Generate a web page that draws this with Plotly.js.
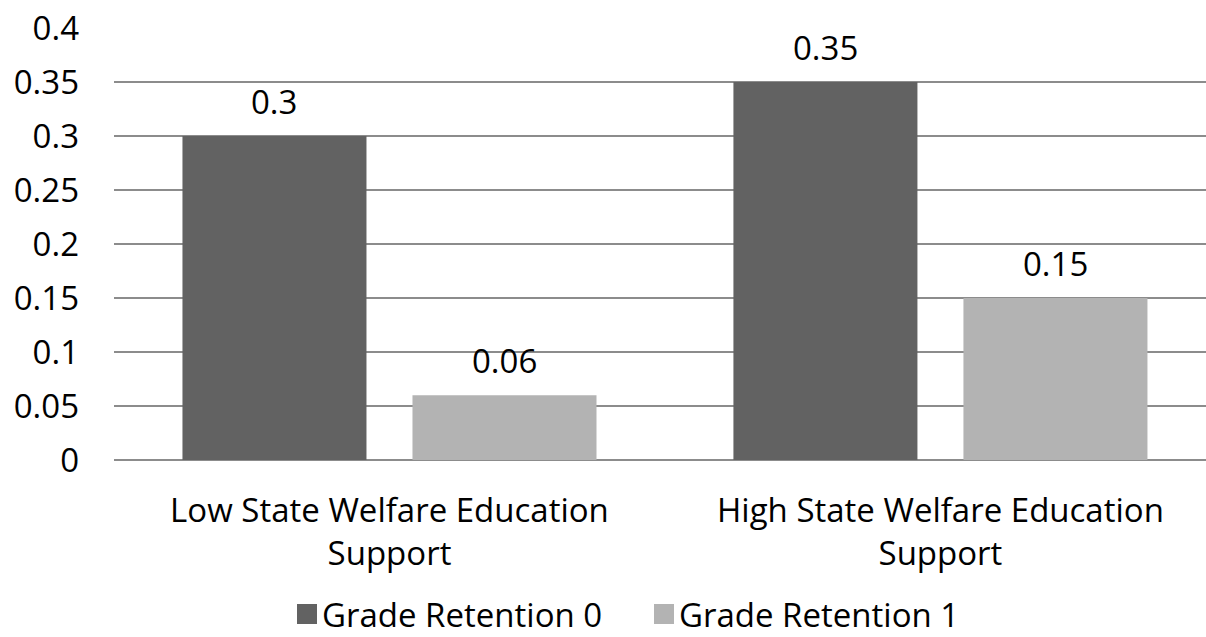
<!DOCTYPE html>
<html>
<head>
<meta charset="utf-8">
<script src="https://cdn.plot.ly/plotly-3.0.1.min.js"></script>
<style>html,body{margin:0;padding:0;background:#fff;}#chart{width:1206px;height:637px;}</style>
</head>
<body>
<div id="chart"></div>
<script>
const categories = ['Low State Welfare Education<br>Support', 'High State Welfare Education<br>Support'];
const seriesNames = ['Grade Retention 0', 'Grade Retention 1'];
const retention0 = [0.3, 0.35];
const retention1 = [0.06, 0.15];
const yTicks = [0, 0.05, 0.1, 0.15, 0.2, 0.25, 0.3, 0.35, 0.4];
const yTickLabels = ['0', '0.05', '0.1', '0.15', '0.2', '0.25', '0.3', '0.35', '0.4'];

const FONT = 'Open Sans, Noto Sans, sans-serif';
const FS = 33;
const colors = ['#626262', '#b3b3b3'];
const seriesVals = [retention0, retention1];
const BARGAP = 0.165;
const slot = (1 - BARGAP) / seriesVals.length;

// plot geometry (pixels)
const W = 1206, H = 637, ML = 114, MT = 28, MB = 177;
const PW = W - ML, PH = H - MT - MB;
const px2paperX = p => (p - ML) / PW;
const px2paperY = p => (H - MB - p) / PH;

const traces = seriesVals.map((vals, i) => ({
  type: 'bar',
  name: seriesNames[i],
  x: categories,
  y: vals,
  marker: {color: colors[i], line: {width: 0}},
  showlegend: false,
  hoverinfo: 'x+y'
}));

// data labels via annotations
const annotations = [];
seriesVals.forEach((vals, i) => {
  const off = -(1 - BARGAP) / 2 + slot * (i + 0.5);
  vals.forEach((v, j) => {
    annotations.push({
      xref: 'x', yref: 'y', x: j + off, y: v,
      text: String(v), showarrow: false,
      xanchor: 'center', yanchor: 'bottom', yshift: 10,
      font: {family: FONT, size: FS, color: '#000'}
    });
  });
});

// manual legend (swatch + label)
const shapes = [];
const legendX = [297, 654];
const legendCY = 614;
seriesNames.forEach((name, i) => {
  shapes.push({
    type: 'rect', xref: 'paper', yref: 'paper',
    x0: px2paperX(legendX[i]), x1: px2paperX(legendX[i] + 20),
    y0: px2paperY(legendCY + 10), y1: px2paperY(legendCY - 10),
    fillcolor: colors[i], line: {width: 0}
  });
  annotations.push({
    xref: 'paper', yref: 'paper',
    x: px2paperX(legendX[i] + 24), y: px2paperY(legendCY),
    text: name, showarrow: false, borderpad: 0,
    xanchor: 'left', yanchor: 'middle',
    font: {family: FONT, size: FS, color: '#000'}
  });
});

const layout = {
  width: W, height: H,
  margin: {l: ML, r: 0, t: MT, b: MB, pad: 0},
  paper_bgcolor: '#fff', plot_bgcolor: '#fff',
  font: {family: FONT, size: FS, color: '#000'},
  barmode: 'group',
  bargap: BARGAP,
  bargroupgap: 0.2,
  showlegend: false,
  annotations: annotations,
  shapes: shapes,
  xaxis: {
    type: 'category', automargin: false,
    range: [-0.5, 1.482],
    showgrid: false, zeroline: false, showline: false,
    ticks: '', ticklabelstandoff: 28,
    tickfont: {family: FONT, size: FS, color: '#000'}
  },
  yaxis: {
    range: [0, 0.4], automargin: false,
    tickvals: yTicks, ticktext: yTickLabels,
    showgrid: true, gridcolor: '#8c8c8c', gridwidth: 2,
    zeroline: true, zerolinecolor: '#8c8c8c', zerolinewidth: 2,
    showline: false, ticks: '', ticklabelstandoff: 34,
    tickfont: {family: FONT, size: FS, color: '#000'}
  }
};

Plotly.newPlot('chart', traces, layout, {displayModeBar: false, staticPlot: true});
</script>
</body>
</html>
